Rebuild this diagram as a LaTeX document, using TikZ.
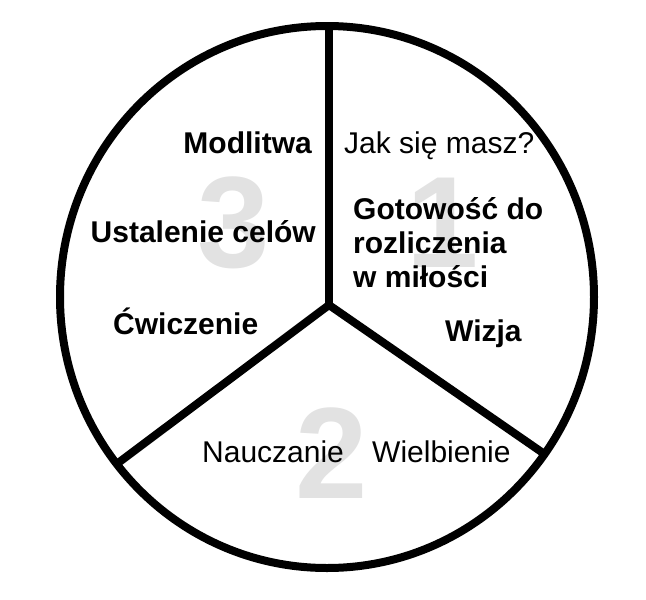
\documentclass[tikz,border=0pt]{standalone}
\usepackage{fontspec}
\setmainfont{Liberation Sans}
\usepackage{tikz}
\usetikzlibrary{positioning}
\usepackage{xcolor}
\definecolor{rimblack}{RGB}{0,0,0}
\definecolor{numgray}{RGB}{226,226,226}
\tikzstyle{rim} = [line width=8pt,color=rimblack]
\tikzstyle{boldtext} = [inner sep=0pt,font=\fontsize{30}{34}\selectfont\bfseries]
\tikzstyle{plaintext} = [inner sep=0pt,font=\fontsize{30}{34}\selectfont]
\tikzstyle{bignum} = [inner sep=0pt,anchor=base,color=numgray,font=\fontsize{130}{130}\selectfont\bfseries]

\begin{document}
\begin{tikzpicture}[x=1pt, y=-1pt]
    \useasboundingbox (0,0) rectangle (646,600);

    % Section numbers
    \node[bignum] (num1) at (443,267) {1};
    \node[bignum] (num2) at (332,498) {2};
    \node[bignum] (num3) at (234,267) {3};

    % Circle and spokes
    \draw[rim] (327,297) ellipse [x radius=267, y radius=271];
    \coordinate (hub) at (329,305);
    \coordinate (rimtop) at (329,26);
    \coordinate (rimleft) at (118,463);
    \coordinate (rimright) at (543,453);
    \draw[rim] (rimtop) -- (hub);
    \draw[rim] (rimleft) -- (hub) -- (rimright);

    % Section 1
    \node[plaintext, anchor=base west] (howareyou) at (344,153) {Jak się masz?};
    \node[boldtext, anchor=base west, align=left] (ready) at (353,287) {Gotowość do\\rozliczenia\\w miłości};
    \node[boldtext, anchor=base west] (vision) at (445,341) {Wizja};

    % Section 2
    \node[plaintext, anchor=base west] (teaching) at (202,462) {Nauczanie};
    \node[plaintext, anchor=base west] (worship) at (372,462) {Wielbienie};

    % Section 3
    \node[boldtext, anchor=base east] (prayer) at (312,153) {Modlitwa};
    \node[boldtext, anchor=base east] (goals) at (316,242) {Ustalenie celów};
    \node[boldtext, anchor=base west] (exercise) at (113,334) {Ćwiczenie};
\end{tikzpicture}
\end{document}
